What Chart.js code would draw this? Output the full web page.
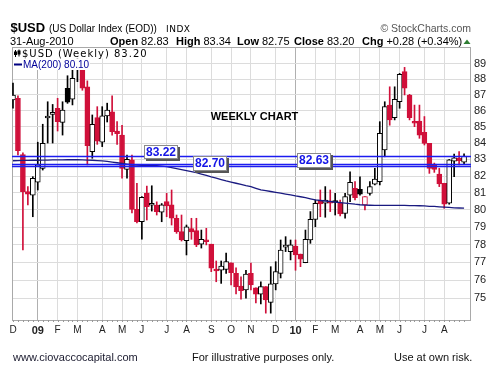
<!DOCTYPE html>
<html><head><meta charset="utf-8">
<script src="https://cdn.jsdelivr.net/npm/chart.js@4/dist/chart.umd.min.js"></script>
<style>html,body{margin:0;padding:0;background:#fff;}canvas{display:block;}</style>
</head><body>
<div style="width:499px;height:384px"><canvas id="c" width="499" height="384"></canvas></div>
<script>
const weeks = ["2008-12-01","2008-12-08","2008-12-15","2008-12-22","2008-12-29",
"2009-01-05","2009-01-12","2009-01-20","2009-01-26",
"2009-02-02","2009-02-09","2009-02-17","2009-02-23",
"2009-03-02","2009-03-09","2009-03-16","2009-03-23","2009-03-30",
"2009-04-06","2009-04-13","2009-04-20","2009-04-27",
"2009-05-04","2009-05-11","2009-05-18","2009-05-26",
"2009-06-01","2009-06-08","2009-06-15","2009-06-22","2009-06-29",
"2009-07-06","2009-07-13","2009-07-20","2009-07-27",
"2009-08-03","2009-08-10","2009-08-17","2009-08-24","2009-08-31",
"2009-09-08","2009-09-14","2009-09-21","2009-09-28",
"2009-10-05","2009-10-12","2009-10-19","2009-10-26",
"2009-11-02","2009-11-09","2009-11-16","2009-11-23","2009-11-30",
"2009-12-07","2009-12-14","2009-12-21","2009-12-28",
"2010-01-04","2010-01-11","2010-01-19","2010-01-25",
"2010-02-01","2010-02-08","2010-02-16","2010-02-22",
"2010-03-01","2010-03-08","2010-03-15","2010-03-22","2010-03-29",
"2010-04-05","2010-04-12","2010-04-19","2010-04-26",
"2010-05-03","2010-05-10","2010-05-17","2010-05-24",
"2010-06-01","2010-06-07","2010-06-14","2010-06-21","2010-06-28",
"2010-07-06","2010-07-12","2010-07-19","2010-07-26",
"2010-08-02","2010-08-09","2010-08-16","2010-08-23","2010-08-30"];

const opens = [86.68,86.79,83.30,81.07,80.87, 81.63,82.46,85.55,85.78, 86.16,85.28,87.43,86.73,
88.70,89.10,87.52,83.47,85.57, 84.05,85.68,85.94,84.74, 84.49,82.40,82.97,80.03,
79.31,80.99,80.27,80.28,79.86, 80.48,80.29,79.51,78.74, 78.22,78.92,78.80,78.02,78.26,
78.02,76.62,76.55,76.59, 76.97,76.38,75.67,75.46, 76.38,75.58,75.22,75.64,74.78,
75.79,76.38,77.85,77.60, 77.92,77.46,76.97,78.26, 79.45,80.52,80.39,80.52,
80.52,80.42,79.80,80.87,81.27, 81.21,80.29,80.97,81.51, 81.66,83.58,86.36,85.57,
86.57,88.49,87.00,85.32,85.36, 84.66,83.98,82.72,82.12, 81.57,80.39,82.90,83.06,82.83];
const highs = [87.75,86.95,83.40,81.37,81.96, 84.05,85.16,86.57,86.40, 86.79,86.57,88.23,88.60,
89.62,89.30,87.90,85.74,86.26, 86.26,86.48,86.95,85.32, 85.10,83.27,83.27,81.57,
80.78,81.40,81.42,80.47,80.37, 80.97,81.17,79.70,79.70, 79.12,79.51,79.51,78.83,78.93,
78.02,77.07,77.07,77.51, 76.97,76.68,76.19,76.55, 76.95,75.58,75.91,75.64,76.75,
77.03,78.26,78.45,78.26, 78.26,77.46,78.83,79.90, 80.58,81.17,81.37,81.17,
80.97,80.58,80.97,82.26,81.67, 81.96,80.78,81.67,82.46, 85.32,86.57,87.52,87.52,
88.38,88.77,87.04,86.36,86.36, 85.64,83.98,82.78,82.46, 81.57,83.00,83.32,83.47,83.34];
const lows = [86.16,83.27,77.69,80.29,79.60, 81.17,82.36,84.00,84.00, 84.74,84.49,86.47,86.37,
87.85,87.30,82.67,83.07,83.92, 83.78,85.30,84.49,83.92, 81.87,81.87,79.82,79.24,
78.30,79.41,79.93,79.70,79.31, 79.60,79.12,78.64,78.20, 77.41,78.30,77.88,77.80,77.98,
76.47,75.91,75.82,76.38, 75.73,75.24,74.95,75.00, 75.46,74.74,74.69,74.19,74.19,
75.46,76.12,77.60,77.13, 76.55,76.75,76.97,78.07, 79.02,79.60,79.57,79.90,
79.70,79.65,79.51,80.48,80.58, 80.87,79.99,80.87,81.47, 81.47,83.16,85.10,85.43,
86.16,87.00,85.43,85.01,84.29, 83.88,82.16,82.22,81.37, 80.09,80.33,81.96,82.67,82.75];
const closes = [87.00,83.53,81.07,80.92,81.87, 82.67,83.98,85.60,85.91, 85.32,86.05,86.54,88.06,
89.25,87.43,83.84,85.16,84.12, 85.68,86.05,84.70,84.58, 82.46,83.01,80.03,79.31,
80.74,80.19,80.30,79.90,80.29, 80.23,79.51,78.74,78.26, 79.02,78.72,77.98,78.30,78.16,
76.66,76.51,76.78,77.03, 76.42,75.62,75.42,76.34, 75.73,75.22,75.64,74.91,75.79,
76.47,77.69,77.90,77.98, 77.41,77.17,78.30,79.45, 80.39,80.35,80.58,80.39,
80.43,79.76,80.78,81.63,80.72, 80.92,80.78,81.37,81.82, 84.60,86.26,85.43,86.73,
88.32,87.43,85.57,85.22,84.49, 83.98,82.46,82.40,81.53, 80.33,82.97,83.10,82.92,83.20];
const ma200 = [82.92,82.93,82.94,82.94,82.95, 82.95,82.96,82.96,82.97,82.97,
82.97,82.98,82.98,82.98,82.97, 82.96,82.95,82.93,82.91,82.88,
82.84,82.80,82.76,82.72,82.68, 82.66,82.65,82.64,82.63,82.62,
82.60,82.56,82.51,82.45,82.39, 82.33,82.27,82.20,82.12,82.04,
81.95,81.87,81.79,81.71,81.64, 81.57,81.50,81.43,81.37,81.27,
81.17,81.13,81.08,81.03,80.98, 80.93,80.88,80.82,80.77,80.72,
80.65,80.58,80.55,80.52,80.49, 80.46,80.43,80.40,80.37,80.33,
80.30,80.28,80.27,80.26,80.26, 80.26,80.26,80.26,80.26,80.26,
80.25,80.25,80.24,80.23,80.21, 80.20,80.18,80.16,80.14,80.12,
80.11,80.10];
const levels = [83.22, 82.70, 82.63];
const yTicks = [75,76,77,78,79,80,81,82,83,84,85,86,87,88,89];
const monthLetters = "JFMAMJJASOND";

const FAM = "'Liberation Sans', Arial, sans-serif";
const RED = '#d0103a', BLK = '#000000';

const monthIdx = [], tickLabel = {}, yearTick = {};
weeks.forEach((w, i) => {
  if (i === 0 || w.slice(0,7) !== weeks[i-1].slice(0,7)) {
    const m = parseInt(w.slice(5,7), 10);
    monthIdx.push(i);
    tickLabel[i] = m === 1 ? w.slice(2,4) : monthLetters[m-1];
    yearTick[i] = (m === 1);
  }
});

const candleColor = closes.map((c, i) => (i > 0 && c < closes[i-1]) ? RED : BLK);
const filled = closes.map((c, i) => c < opens[i]);

const wickData = weeks.map((_, i) => ({x: i, y: [lows[i], highs[i]]}));
const bodyData = weeks.map((_, i) => ({x: i, y: [opens[i], closes[i]]}));
const maData = weeks.map((_, i) => ({x: i, y: ma200[i]}));

const deco = {
  id: 'deco',
  beforeDraw(chart) {
    const c = chart.ctx;
    c.save(); c.fillStyle = '#fff'; c.fillRect(0, 0, chart.width, chart.height); c.restore();
  },
  beforeDatasetsDraw(chart) {
    const c = chart.ctx, a = chart.chartArea;
    c.save();
    c.strokeStyle = '#a9a9a9'; c.lineWidth = 1;
    c.strokeRect(a.left + 0.5, a.top + 0.5, a.right - a.left - 1, a.bottom - a.top);
    const xs = chart.scales.x;
    c.strokeStyle = '#999';
    weeks.forEach((_, i) => {
      const px = Math.round(xs.getPixelForValue(i)) + 0.5;
      c.beginPath(); c.moveTo(px, a.bottom); c.lineTo(px, a.bottom + 2); c.stroke();
    });
    c.restore();
  },
  afterDatasetsDraw(chart) {
    const c = chart.ctx, a = chart.chartArea, ys = chart.scales.y;
    c.save();
    // level lines
    c.strokeStyle = '#1c1cf0'; c.lineWidth = 1.4;
    levels.forEach(v => {
      const py = Math.round(ys.getPixelForValue(v)) + 0.5;
      c.beginPath(); c.moveTo(a.left, py); c.lineTo(a.right, py); c.stroke();
    });
    // level label boxes
    const boxes = [[144, 145, 34, 14], [193, 156, 34, 15], [297, 153, 34, 15]];
    levels.forEach((v, k) => {
      const [bx, by, bw, bh] = boxes[k];
      c.fillStyle = '#555'; c.fillRect(bx + 2, by + 2, bw, bh);
      c.fillStyle = '#fff'; c.fillRect(bx, by, bw, bh);
      c.strokeStyle = '#8a8a8a'; c.lineWidth = 1; c.strokeRect(bx + 0.5, by + 0.5, bw - 1, bh - 1);
      c.fillStyle = '#1414e6'; c.font = 'bold 12px ' + FAM;
      c.textAlign = 'center'; c.textBaseline = 'middle';
      c.fillText(v.toFixed(2), bx + bw / 2, by + bh / 2 + 0.5);
    });
    // annotation
    c.fillStyle = '#000'; c.font = 'bold 11px ' + FAM; c.textAlign = 'center'; c.textBaseline = 'alphabetic';
    c.fillText('WEEKLY CHART', 254.5, 119.5);
    // legend
    c.fillStyle = '#fff';
    c.fillRect(13, 48, 135, 10.5);
    c.fillRect(13, 58.5, 77, 11.5);
    c.fillStyle = '#000';
    c.fillRect(15, 50, 1, 7); c.fillRect(14, 51.5, 3, 3.5);
    c.fillRect(18.5, 49.5, 1, 7); c.fillRect(17.5, 50.5, 3, 4);
    c.textAlign = 'left';
    c.font = "10px 'DejaVu Sans', Verdana, sans-serif";
    c.letterSpacing = '1px';
    c.fillText('$USD (Weekly) ' + closes[closes.length - 1].toFixed(2), 22, 57);
    c.letterSpacing = '0px';
    c.fillStyle = '#000080'; c.fillRect(14, 63.5, 8, 2);
    c.fillStyle = '#000099'; c.font = '10px ' + FAM;
    c.fillText('MA(200) ' + ma200[ma200.length - 1].toFixed(2), 23, 68);
    c.restore();
  },
  afterDraw(chart) {
    const c = chart.ctx;
    const n = closes.length - 1;
    c.save();
    c.textBaseline = 'alphabetic'; c.textAlign = 'left'; c.fillStyle = '#000';
    c.font = 'bold 13px ' + FAM; c.fillText('$USD', 10.5, 32);
    c.font = '10px ' + FAM; c.fillText('(US Dollar Index (EOD))', 49, 32);
    c.font = "9px 'DejaVu Sans', Verdana, sans-serif"; c.letterSpacing = '0.5px';
    c.fillText('INDX', 166, 32); c.letterSpacing = '0px';
    c.font = '11px ' + FAM; c.fillText('31-Aug-2010', 10, 45);
    const parts = [
      ['Open', opens[n].toFixed(2), 110],
      ['High', highs[n].toFixed(2), 176],
      ['Low', lows[n].toFixed(2), 237],
      ['Close', closes[n].toFixed(2), 294],
      ['Chg', '+0.28 (+0.34%)', 362]
    ];
    parts.forEach(([lab, val, x]) => {
      c.font = 'bold 11px ' + FAM;
      c.fillText(lab, x, 45);
      const w = c.measureText(lab).width;
      c.font = '11px ' + FAM;
      c.fillText(val, x + w + 3, 45);
    });
    c.fillStyle = '#2e7d32';
    c.beginPath(); c.moveTo(463.5, 44); c.lineTo(470.5, 44); c.lineTo(467, 39.5); c.closePath(); c.fill();
    c.fillStyle = '#555'; c.font = '10.5px ' + FAM; c.textAlign = 'right';
    c.fillText('\u00A9 StockCharts.com', 471, 31.5);
    c.textAlign = 'left'; c.font = '11px ' + FAM;
    c.fillStyle = '#1a1a2e'; c.fillText('www.ciovaccocapital.com', 13, 361);
    c.fillStyle = '#111'; c.fillText('For illustrative purposes only.', 192, 361);
    c.fillText('Use at own risk.', 394, 361);
    c.restore();
  }
};

new Chart(document.getElementById('c'), {
  type: 'bar',
  data: {
    datasets: [
      { type: 'line', data: maData, borderColor: '#1a1a80', borderWidth: 1.3, pointRadius: 0, tension: 0, order: 0 },
      { data: bodyData, grouped: false, barThickness: 5, minBarLength: 2,
        backgroundColor: weeks.map((_, i) => filled[i] ? candleColor[i] : '#ffffff'),
        borderColor: candleColor, borderWidth: 1, borderSkipped: false, order: 1 },
      { data: wickData, grouped: false, barThickness: 1, backgroundColor: candleColor, borderWidth: 0, order: 2 }
    ]
  },
  options: {
    responsive: false, animation: false,
    layout: { padding: { top: 47, left: 12, right: 0, bottom: 0 } },
    plugins: { legend: { display: false }, tooltip: { enabled: false } },
    scales: {
      x: {
        type: 'linear', min: -0.2, max: 92.4, offset: false,
        grid: { offset: false, drawTicks: false, color: ctx => (ctx.tick && yearTick[ctx.tick.value]) ? '#b0b0b0' : '#dcdcdc' },
        border: { display: false },
        afterBuildTicks: s => { s.ticks = monthIdx.map(v => ({ value: v })); },
        afterFit: s => { s.height = 64; },
        ticks: {
          autoSkip: false, maxRotation: 0, padding: 4, color: '#222',
          font: ctx => (ctx.tick && yearTick[ctx.tick.value]) ? { size: 11, weight: 'bold', family: FAM } : { size: 10, family: FAM },
          callback: v => tickLabel[v] !== undefined ? tickLabel[v] : ''
        }
      },
      y: {
        type: 'logarithmic', position: 'right', min: 73.82, max: 90.1,
        grid: { drawTicks: false, color: '#dcdcdc' },
        border: { display: false },
        afterBuildTicks: s => { s.ticks = yTicks.map(v => ({ value: v })); },
        afterFit: s => { s.width = 28; },
        ticks: { autoSkip: false, padding: 3, color: '#222', font: { size: 11, family: FAM }, callback: v => String(v) }
      }
    }
  },
  plugins: [deco]
});
</script>
</body></html>
